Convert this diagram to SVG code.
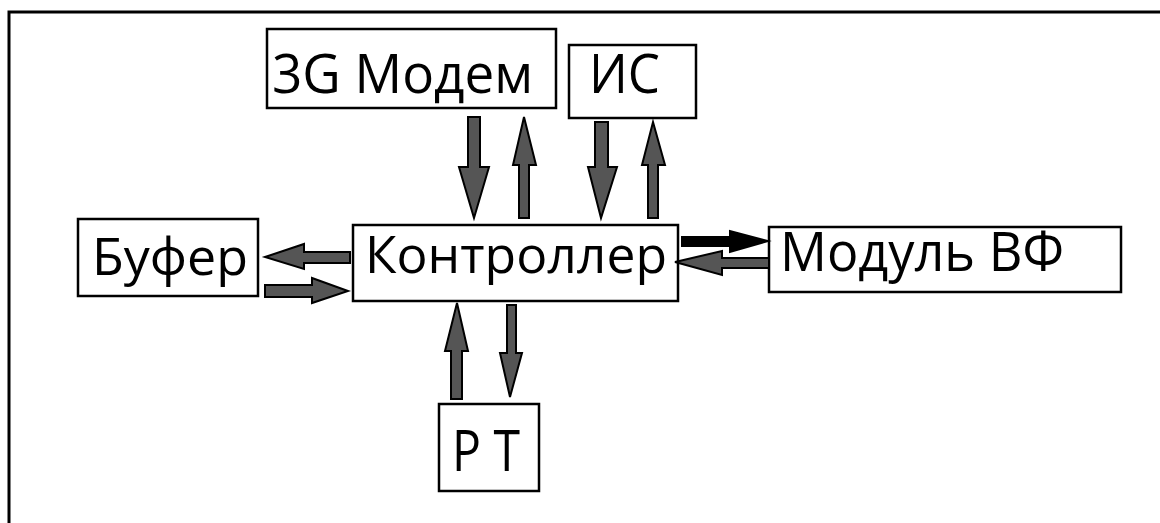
<svg xmlns="http://www.w3.org/2000/svg" width="1160" height="523" viewBox="0 0 1160 523">
<style>
.box{fill:#fff;stroke:#000;stroke-width:2.5}
.lbl{font-family:"Open Sans","Noto Sans",sans-serif;fill:#000}
.arr{fill:#555;stroke:#000;stroke-width:2;stroke-linejoin:miter}
.arrb{fill:#000;stroke:#000;stroke-width:2}
</style>
<rect width="1160" height="523" fill="#fff"/>
<path d="M9,523 V12 H1160" fill="none" stroke="#000" stroke-width="3"/>
<g id="modem"><rect class="box" x="267" y="29" width="289" height="79"/><text class="lbl" x="272" y="93" font-size="55" textLength="261" lengthAdjust="spacingAndGlyphs">3G Модем</text></g>
<g id="is"><rect class="box" x="569" y="45" width="127" height="73"/><text class="lbl" x="589" y="93" font-size="55" textLength="71" lengthAdjust="spacingAndGlyphs">ИС</text></g>
<g id="buffer"><rect class="box" x="78" y="219" width="180" height="77"/><text class="lbl" x="92" y="275" font-size="52" textLength="156" lengthAdjust="spacingAndGlyphs">Буфер</text></g>
<g id="controller"><rect class="box" x="353" y="225" width="325" height="76"/><text class="lbl" x="365" y="273" font-size="52" textLength="302" lengthAdjust="spacingAndGlyphs">Контроллер</text></g>
<g id="rf"><rect class="box" x="769" y="227" width="352" height="65"/><text class="lbl" x="780" y="271" font-size="54" textLength="284" lengthAdjust="spacingAndGlyphs">Модуль ВФ</text></g>
<g id="rt"><rect class="box" x="439" y="404" width="100" height="87"/><text class="lbl" x="452" y="471" font-size="57" textLength="68" lengthAdjust="spacingAndGlyphs">Р Т</text></g>
<g id="connectors">
<polygon class="arr" points="468,117 480,117 480,167 489,167 474,218 459,167 468,167"/>
<polygon class="arr" points="524,117 536,165 529,165 529,218 519,218 519,165 513,165"/>
<polygon class="arr" points="595,122 608,122 608,167 617,167 601,218 588,167 595,167"/>
<polygon class="arr" points="653,122 665,165 658,165 658,218 648,218 648,165 642,165"/>
<polygon class="arr" points="265,257 304,244 304,252 350,252 350,263 304,263 304,269"/>
<polygon class="arr" points="265,285 312,285 312,278 348,291 312,303 312,297 265,297"/>
<polygon class="arrb" points="682,237 730,237 730,231 768,241 730,252 730,246 682,246"/>
<polygon class="arr" points="675,262 722,251 722,258 769,258 769,268 722,268 722,275"/>
<polygon class="arr" points="457,303 468,351 462,351 462,399 451,399 451,351 445,351"/>
<polygon class="arr" points="507,305 516,305 516,353 522,353 510,397 500,353 507,353"/>
</g>
</svg>
